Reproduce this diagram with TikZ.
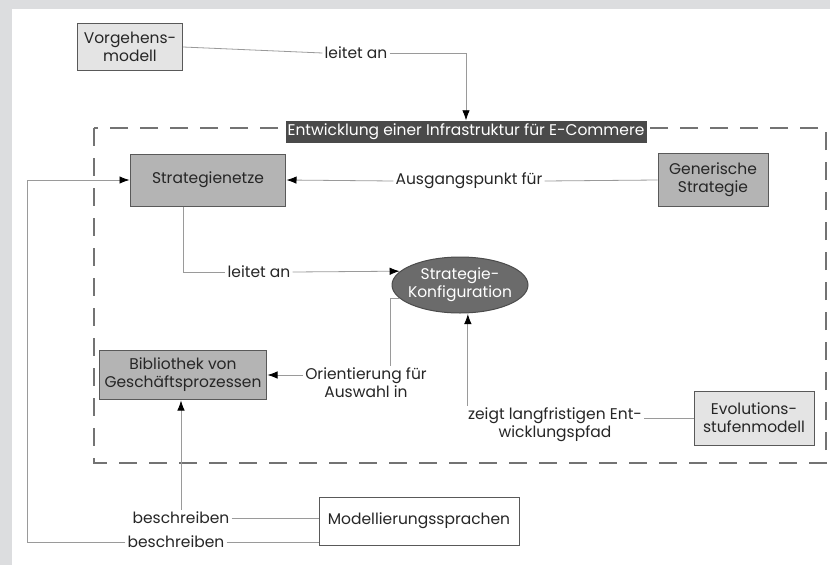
\documentclass[tikz,border=0pt]{standalone}
\usepackage{fontspec}
\setmainfont{Poppins}
\usetikzlibrary{shapes.geometric,arrows.meta}

\definecolor{pagegray}{HTML}{DCDDDF}
\definecolor{boxdark}{HTML}{B4B4B4}
\definecolor{boxlight}{HTML}{E4E4E4}
\definecolor{titlefill}{HTML}{4A4A4A}
\definecolor{ovalfill}{HTML}{6B6B6B}
\definecolor{linegray}{HTML}{9A9A9A}

\begin{document}
\begin{tikzpicture}[%
  x=1pt, y=-1pt, % Pixel-like coordinates, y downwards
  every node/.style={font=\fontsize{15.5}{18}\selectfont, text=black!85, align=center},
  box/.style={rectangle, draw=black!65, line width=1pt, fill=#1, inner sep=2pt}, % Framed boxes
  lbl/.style={fill=white, inner sep=2pt}, % Labels on connectors
  link/.style={draw=linegray, line width=0.8pt}, % Plain connector
  arr/.style={link, -{Latex[length=10pt,width=7.5pt,black]}, shorten >=0.5pt} % Connector with arrow tip
]

% Page
\useasboundingbox (0,0) rectangle (830,565);
\fill[pagegray] (0,0) rectangle (830,565);
\fill[white] (12,9) rectangle (830,565);

% Frame of the infrastructure
\draw[black!55, line width=1.3pt, dash pattern=on 18pt off 12pt] (94,128) rectangle (826,463);

% Boxes
\node (vorg) [box=boxlight, minimum width=105pt, minimum height=47pt] at (130,47) {Vorgehens-\\modell};
\node (title) [fill=titlefill, text=white, minimum width=361pt, minimum height=22pt, inner sep=1pt] at (466,132) {Entwicklung einer Infrastruktur für E-Commere};
\node (strat) [box=boxdark, minimum width=155pt, minimum height=52pt] at (208,180) {Strategienetze};
\node (gen) [box=boxdark, minimum width=110pt, minimum height=53pt] at (713,180) {Generische\\Strategie};
\node (conf) [ellipse, draw=black!70, line width=1pt, fill=ovalfill, text=white, minimum width=136pt, minimum height=56pt, inner xsep=-9pt, inner ysep=-4pt] at (460,285) {Strategie-\\Konfiguration};
\node (bib) [box=boxdark, minimum width=167pt, minimum height=49pt] at (183,375) {Bibliothek von\\Geschäftsprozessen};
\node (evol) [box=boxlight, minimum width=120pt, minimum height=54pt] at (754,418) {Evolutions-\\stufenmodell};
\node (mod) [box=white, minimum width=200pt, minimum height=48pt] at (419,521) {Modellierungssprachen};

% Labels
\node (lvorg) [lbl] at (356,53) {leitet an};
\node (laus) [lbl] at (469,181) {Ausgangspunkt für};
\node (lleit) [lbl] at (259,272) {leitet an};
\node (lori) [lbl] at (366,383) {Orientierung für\\Auswahl in};
\node (lzeig) [lbl] at (555,425) {zeigt langfristigen Ent-\\wicklungspfad};
\node (lbes1) [lbl] at (181,518) {beschreiben};
\node (lbes2) [lbl] at (176,542) {beschreiben};
\coordinate (cleft) at (27,542);

% Connectors
\draw[link] (vorg.east) -- (lvorg.west);
\draw[arr] (lvorg.east) -| (title.north);
\draw[link] (gen.west) -- (laus.east);
\draw[arr] (laus.west) -- (strat.east);
\draw[link] ([xshift=-25pt]strat.south) |- (lleit.west);
\draw[arr] (lleit.east) -- (conf.167);
\draw[link] (conf.193) -| ([xshift=24pt]lori.north);
\draw[arr] (lori.west |- bib.east) -- (bib.east);
\draw[arr] ([xshift=2pt]lzeig.north west) -- ([xshift=2pt]lzeig.north west |- conf.south);
\draw[link] (lzeig.east |- evol.west) -- (evol.west);
\draw[arr] (lbes1.north) -- (lbes1.north |- bib.south);
\draw[link] (lbes1.east) -- (lbes1.east -| mod.west);
\draw[link] (lbes2.east) -- (lbes2.east -| mod.west);
\draw[arr] (lbes2.west) -- (cleft) |- (strat.west);

\end{tikzpicture}
\end{document}
